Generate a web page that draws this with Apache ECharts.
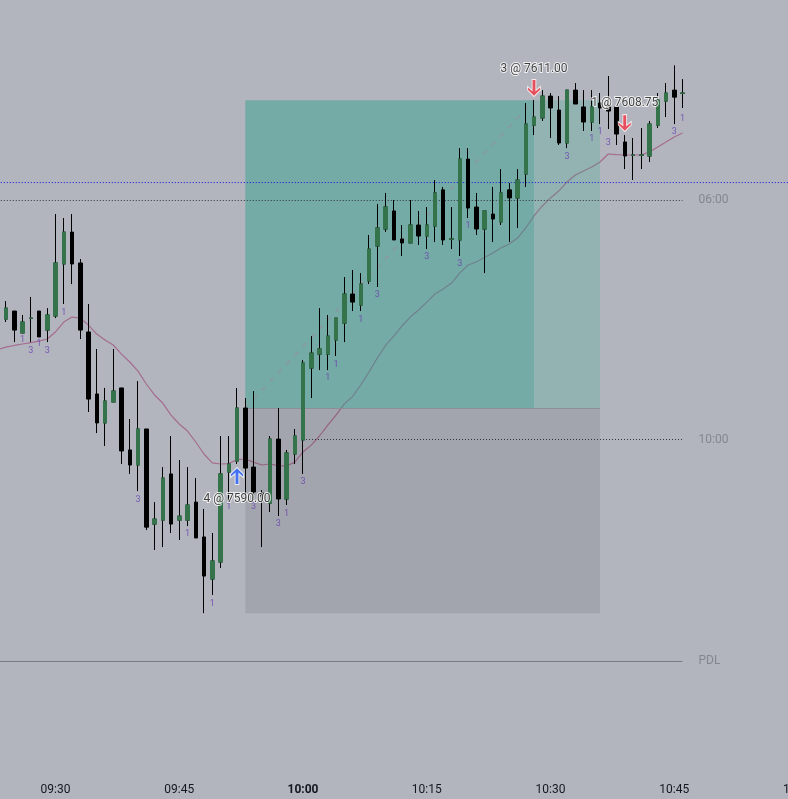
<!DOCTYPE html>
<html>
<head>
<meta charset="utf-8">
<style>html,body{margin:0;padding:0;background:#b2b5be}#main{width:788px;height:799px}</style>
<script src="https://cdn.jsdelivr.net/npm/echarts@6/dist/echarts.min.js"></script>
</head>
<body>
<div id="main"></div>
<script>
// one minute candles starting at 09:23, [open, close, low, high]
var candles = [
  [7595.60,7595.87,7595.32,7596.28],[7596.07,7596.82,7595.87,7597.30],[7596.62,7595.32,7594.50,7596.62],
  [7595.12,7595.87,7595.12,7596.35],[7596.12,7596.14,7594.50,7597.58],[7596.62,7594.85,7594.85,7596.62],
  [7595.32,7596.35,7594.50,7596.82],[7596.28,7599.90,7596.14,7603.24],[7599.83,7602.01,7597.10,7602.97],
  [7602.01,7599.83,7598.46,7603.24],[7599.90,7595.32,7594.71,7600.17],[7595.19,7590.61,7589.73,7597.10],
  [7590.96,7588.98,7588.29,7594.03],[7588.98,7590.48,7587.41,7591.37],[7590.41,7591.16,7590.41,7594.03],
  [7591.37,7587.07,7586.18,7591.37],[7587.14,7586.11,7585.50,7589.25],[7586.11,7588.57,7584.33,7591.84],
  [7588.57,7581.87,7581.67,7588.57],[7582.08,7582.42,7580.31,7583.58],[7582.35,7585.22,7580.51,7585.97],
  [7585.50,7582.08,7581.47,7588.09],[7582.35,7582.62,7580.99,7586.45],[7582.35,7583.38,7581.94,7585.97],
  [7583.58,7581.13,7581.13,7585.22],[7581.20,7578.53,7576.00,7583.11],[7578.33,7579.56,7577.24,7581.47],
  [7579.49,7585.50,7579.08,7588.09],[7585.63,7586.18,7583.51,7588.09],[7586.38,7590.00,7586.18,7591.37],
  [7590.00,7585.90,7583.93,7590.68],[7585.97,7584.27,7583.72,7591.16],[7584.20,7583.99,7580.51,7584.40],
  [7583.51,7587.88,7582.90,7588.09],[7587.88,7583.79,7582.63,7590.00],[7583.79,7586.93,7583.38,7587.14],
  [7586.86,7588.09,7586.18,7588.57],[7587.82,7593.07,7585.50,7593.28],[7592.73,7593.75,7590.68,7594.91],
  [7593.68,7594.03,7592.59,7596.82],[7593.68,7594.91,7592.59,7596.35],[7594.64,7596.14,7593.55,7596.14],
  [7595.80,7597.78,7594.50,7598.94],[7597.78,7597.23,7596.62,7599.42],[7597.03,7598.46,7596.62,7599.21],
  [7598.67,7600.85,7598.46,7601.81],[7601.06,7602.29,7598.26,7603.93],[7602.22,7603.72,7602.01,7604.68],
  [7603.45,7601.47,7601.47,7604.20],[7601.54,7601.27,7600.38,7602.49],[7601.27,7602.49,7601.27,7604.20],
  [7602.49,7601.74,7601.13,7603.45],[7601.74,7602.49,7600.85,7603.72],[7602.42,7604.68,7601.33,7605.56],
  [7604.89,7601.47,7601.13,7605.09],[7601.52,7601.54,7600.85,7603.72],[7601.47,7606.99,7600.38,7607.74],
  [7606.99,7603.65,7602.97,7607.74],[7603.72,7602.22,7601.81,7604.68],[7602.22,7603.45,7599.21,7603.45],
  [7603.24,7602.90,7601.33,7605.09],[7602.70,7604.68,7602.49,7606.31],[7604.89,7604.34,7601.33,7605.36],
  [7604.34,7605.56,7602.29,7606.31],[7605.97,7609.38,7605.09,7610.82],[7609.31,7609.86,7608.63,7611.02],
  [7609.80,7611.29,7609.59,7611.70],[7611.29,7610.48,7608.43,7611.50],[7610.34,7608.09,7607.95,7611.29],
  [7608.09,7611.70,7607.74,7611.70],[7611.70,7610.75,7610.75,7612.18],[7610.55,7609.52,7608.91,7611.70],
  [7609.52,7610.55,7608.91,7611.70],[7610.82,7610.48,7609.38,7611.50],[7610.55,7610.27,7609.04,7612.66],
  [7610.55,7608.70,7607.95,7610.55],[7608.16,7607.20,7606.31,7608.63],[7607.25,7607.27,7605.56,7608.43],
  [7607.25,7607.27,7606.31,7609.11],[7607.20,7609.38,7606.79,7609.59],[7609.31,7611.02,7609.11,7611.50],
  [7610.95,7611.50,7609.86,7612.18],[7611.70,7611.22,7609.38,7613.39],[7611.48,7611.50,7610.48,7612.45]
];
// moving average, same minutes as candles
var average = [
  7593.99,7594.16,7594.27,7594.37,7594.47,7594.57,7594.71,7595.19,7595.87,7596.21,7596.14,7595.66,
  7595.05,7594.64,7594.30,7593.68,7593.14,7592.52,7591.64,7590.89,7590.34,7589.52,7588.91,7588.43,
  7587.68,7586.86,7586.25,7586.18,7586.21,7586.48,7586.52,7586.31,7586.11,7586.18,7586.07,7586.04,
  7586.31,7587.00,7587.47,7588.09,7588.84,7589.52,7590.27,7590.78,7591.57,7592.46,7593.41,7594.27,
  7594.91,7595.60,7596.21,7596.69,7597.23,7597.78,7598.12,7598.53,7599.21,7599.76,7599.97,7600.27,
  7600.58,7600.92,7601.20,7601.60,7602.29,7603.11,7603.79,7604.34,7604.81,7605.43,7605.90,7606.18,
  7606.45,7606.79,7607.34,7607.30,7607.27,7607.27,7607.27,7607.48,7607.82,7608.16,7608.50,7608.77
];
// small purple step labels under the candles
var stepLabels = [
  ['09:26',7594.64,'1'],['09:27',7593.89,'3'],['09:28',7594.37,'1'],['09:29',7593.89,'3'],['09:31',7596.48,'1'],
  ['09:40',7583.72,'3'],['09:46',7581.40,'1'],['09:49',7576.62,'1'],['09:51',7583.24,'1'],['09:54',7583.24,'3'],
  ['09:57',7582.08,'3'],['09:58',7582.76,'1'],['10:00',7584.95,'3'],['10:03',7592.05,'1'],['10:04',7592.94,'1'],
  ['10:07',7596.00,'1'],['10:09',7597.71,'3'],['10:15',7600.31,'3'],['10:19',7599.83,'3'],['10:20',7602.42,'1'],
  ['10:32',7607.13,'3'],['10:35',7608.36,'1'],['10:36',7608.84,'1'],['10:37',7608.09,'3'],['10:45',7608.84,'3'],
  ['10:46',7609.73,'1']
];
var entryPrice = 7590, targetPrice = 7611, stopPrice = 7576;
var entryTime = '09:53', exitTime = '10:28', boxEnd = '10:36';
var firstTime = '09:23', lastTime = '10:46', endTime = '11:01', sessionLine = '10:00';
var entryLevel = 7589.97, blueLevel = 7605.39, level0600 = 7604.165, level1000 = 7587.85, pdlLevel = 7572.70;
var buyArrow = [['09:52',7585.36]];
var sellArrows = [['10:28',7611.84],['10:39',7609.45]];
var tradeLabels = [['09:52',7583.81,'4 @ 7590.00'],['10:28',7613.14,'3 @ 7611.00'],['10:39',7610.81,'1 @ 7608.75']];

// category axis, runs past the right edge of the picture
var times = [];
for (var t = 9 * 60 + 23; t <= 11 * 60 + 1; t++) {
  var h = Math.floor(t / 60), mi = t % 60;
  times.push((h < 10 ? '0' : '') + h + ':' + (mi < 10 ? '0' : '') + mi);
}
var avgData = average.map(function (v, i) { return [times[i], v]; });
var upBodies = candles.map(function (c) {
  return c[1] > c[0] ? [c[0], c[1], c[0], c[1]] : ['-', '-', '-', '-'];
});
var arrowPath = 'path://M7,0 L14,7 L14,10.5 L9,6.5 L9,18 L5,18 L5,6.5 L0,10.5 L0,7 Z';
var green = '#35744b';

function levelLine(name, from, to, price, color, dash) {
  return {
    type: 'line',
    z: 3,
    data: [[from, price], [to, price]],
    symbol: 'none',
    silent: true,
    lineStyle: { color: color, type: dash, width: 1 },
    endLabel: {
      show: !!name,
      formatter: name,
      distance: 16,
      color: '#838691',
      fontFamily: 'Roboto',
      fontSize: 12
    }
  };
}

var chart = echarts.init(document.getElementById('main'), null, { width: 788, height: 799 });
var option = {
  animation: false,
  backgroundColor: '#b2b5be',
  grid: { left: -6.375, width: 816.75, top: 0, bottom: 25, outerBoundsMode: 'none' },
  xAxis: {
    type: 'category',
    data: times,
    axisLine: { show: false },
    axisTick: { show: false },
    splitLine: { show: false },
    axisLabel: {
      margin: 10,
      color: '#131722',
      fontFamily: 'Roboto',
      fontSize: 12,
      hideOverlap: false,
      interval: function (i, v) { return +v.slice(3) % 15 === 0; },
      formatter: function (v) { return v === sessionLine ? '{b|' + v + '}' : v; },
      rich: { b: { fontWeight: 'bold', fontFamily: 'Roboto', fontSize: 12, color: '#131722' } }
    }
  },
  yAxis: { type: 'value', min: 7565.02, max: 7617.85, show: false, splitLine: { show: false } },
  series: [
    {
      type: 'line',
      z: 1,
      data: avgData,
      symbol: 'none',
      lineStyle: { color: '#a56c90', width: 1.2 }
    },
    {
      type: 'line',
      z: 2,
      data: [],
      markArea: {
        z: 2,
        silent: true,
        data: [
          [{ coord: [entryTime, targetPrice], itemStyle: { color: 'rgba(40,158,135,0.435)' } }, { coord: [exitTime, entryPrice] }],
          [{ coord: [exitTime, targetPrice], itemStyle: { color: 'rgba(23,176,130,0.2)' } }, { coord: [boxEnd, entryPrice] }],
          [{ coord: [entryTime, entryPrice], itemStyle: { color: 'rgba(0,0,0,0.085)' } }, { coord: [boxEnd, stopPrice] }]
        ]
      }
    },
    levelLine('', entryTime, boxEnd, entryLevel, '#8b8f99', 'solid'),
    {
      type: 'line',
      z: 3,
      data: [[entryTime, entryPrice], [exitTime, targetPrice]],
      symbol: 'none',
      silent: true,
      lineStyle: { color: '#8a98a0', type: [5, 7], width: 1.5 }
    },
    levelLine('', firstTime, endTime, blueLevel, '#1010e0', [1, 2]),
    levelLine('06:00', firstTime, lastTime, level0600, '#30333c', [1, 2]),
    levelLine('10:00', sessionLine, lastTime, level1000, '#30333c', [1, 2]),
    levelLine('PDL', firstTime, lastTime, pdlLevel, '#787b86', 'solid'),
    {
      type: 'candlestick',
      z: 4,
      data: candles,
      barWidth: 4,
      itemStyle: { color: '#000', color0: '#000', borderColor: '#000', borderColor0: '#000', borderWidth: 1 }
    },
    {
      type: 'candlestick',
      z: 4,
      data: upBodies,
      barWidth: 4,
      itemStyle: { color: green, color0: green, borderColor: green, borderColor0: green, borderWidth: 1 }
    },
    {
      type: 'scatter',
      z: 5,
      data: stepLabels,
      symbolSize: 0,
      label: {
        show: true,
        position: 'inside',
        formatter: function (p) { return p.value[2]; },
        color: '#6a3fb0',
        fontFamily: 'Roboto',
        fontSize: 9
      }
    },
    {
      type: 'scatter',
      z: 6,
      data: buyArrow,
      symbol: arrowPath,
      symbolSize: [13, 17],
      itemStyle: { color: '#2962ff', borderColor: '#fff', borderWidth: 1 }
    },
    {
      type: 'scatter',
      z: 6,
      data: sellArrows,
      symbol: arrowPath,
      symbolSize: [13, 17],
      symbolRotate: 180,
      itemStyle: { color: '#f23645', borderColor: '#fff', borderWidth: 1 }
    },
    {
      type: 'scatter',
      z: 7,
      data: tradeLabels,
      symbolSize: 0,
      label: {
        show: true,
        position: 'inside',
        formatter: function (p) { return p.value[2]; },
        color: '#111',
        fontFamily: 'Roboto',
        fontSize: 12,
        textBorderColor: '#fff',
        textBorderWidth: 2
      }
    }
  ]
};
chart.setOption(option);
</script>
</body>
</html>
